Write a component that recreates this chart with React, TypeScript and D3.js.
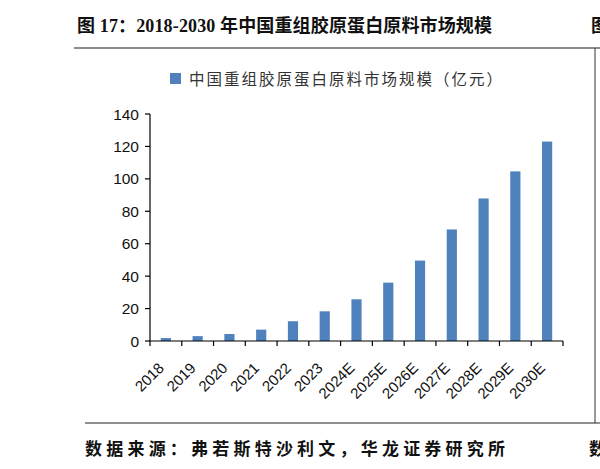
import React from "react";
import * as d3 from "d3";

const categories = ["2018","2019","2020","2021","2022","2023","2024E","2025E","2026E","2027E","2028E","2029E","2030E"];
const values = [1.8, 3.0, 4.3, 7.0, 12.2, 18.3, 25.7, 36.0, 49.6, 68.8, 87.9, 104.6, 123.0];
const yTicks = [0, 20, 40, 60, 80, 100, 120, 140];
const titleText = "图 17：2018-2030 年中国重组胶原蛋白原料市场规模";
const legendText = "中国重组胶原蛋白原料市场规模（亿元）";
const sourceText = "数据来源：弗若斯特沙利文，华龙证券研究所";

const W = 600, H = 469;
const plot = { left: 150, right: 563, top: 114, bottom: 341 };
const barColor = "#4F81BD";
const latin = "'Liberation Sans', Arial, sans-serif";
const cjk = "'Liberation Serif', 'Noto Sans CJK SC', serif";

export default function App() {
  const x = d3.scaleBand<string>().domain(categories).range([plot.left, plot.right]).padding(0);
  const y = d3.scaleLinear().domain([0, 140]).range([plot.bottom, plot.top]);
  const bw = x.bandwidth();
  const barW = bw * 0.32;
  const boundaries = [...categories.map((c) => x(c) as number), plot.right];

  return (
    <svg width={W} height={H} style={{ position: "absolute", left: 0, top: 0, background: "#fff" }}>
      {/* title */}
      <text x={77} y={32} fontFamily={cjk} fontWeight="bold" fontSize={18} fill="#111"
        textLength={415} lengthAdjust="spacing">{titleText}</text>
      <text x={591} y={32} fontFamily={cjk} fontWeight="bold" fontSize={18} fill="#111">图</text>
      {/* frame lines */}
      <line x1={74} x2={W} y1={48} y2={48} stroke="#666" strokeWidth={1.5} />
      <line x1={595} x2={595} y1={48} y2={423} stroke="#333" strokeWidth={1} />
      <line x1={85} x2={W} y1={423} y2={423} stroke="#222" strokeWidth={1.2} />

      {/* legend */}
      <rect x={170} y={73} width={11} height={11} fill={barColor} />
      <text x={189} y={85} fontFamily="'Noto Sans CJK SC', sans-serif" fontSize={15.5} fill="#333"
        textLength={313} lengthAdjust="spacing">{legendText}</text>

      {/* bars */}
      {categories.map((c, i) => (
        <rect key={c} x={(x(c) as number) + (bw - barW) / 2} y={y(values[i])}
          width={barW} height={plot.bottom - y(values[i])} fill={barColor} />
      ))}

      {/* y axis */}
      <line x1={plot.left} x2={plot.left} y1={plot.top} y2={plot.bottom} stroke="#000" strokeWidth={1.2} />
      {yTicks.map((t) => (
        <g key={t}>
          <line x1={plot.left - 5} x2={plot.left} y1={y(t)} y2={y(t)} stroke="#000" strokeWidth={1.2} />
          <text x={plot.left - 11} y={y(t)} dy="0.36em" textAnchor="end" fontFamily={latin}
            fontSize={15.5} fill="#111">{t}</text>
        </g>
      ))}

      {/* x axis */}
      <line x1={plot.left} x2={plot.right} y1={plot.bottom} y2={plot.bottom} stroke="#000" strokeWidth={1.2} />
      {boundaries.map((b, i) => (
        <line key={i} x1={b} x2={b} y1={plot.bottom} y2={plot.bottom + 5} stroke="#000" strokeWidth={1.2} />
      ))}
      {categories.map((c) => {
        const cx = (x(c) as number) + bw / 2;
        return (
          <text key={c} transform={`translate(${cx - 1},${369}) rotate(-45)`} textAnchor="end"
            fontFamily={latin} fontSize={15} fill="#111">{c}</text>
        );
      })}

      {/* source */}
      <text x={85} y={455} fontFamily="'Noto Sans CJK SC', serif" fontWeight="bold" fontSize={17} fill="#111"
        textLength={420} lengthAdjust="spacing">{sourceText}</text>
      <text x={589} y={455} fontFamily="'Noto Sans CJK SC', serif" fontWeight="bold" fontSize={17} fill="#111">数</text>
    </svg>
  );
}
